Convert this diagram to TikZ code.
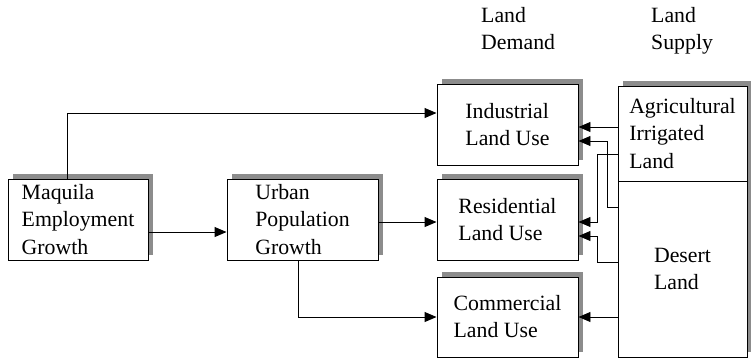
\documentclass[tikz,border=0pt]{standalone}
\usepackage{fontspec}
\setmainfont{Liberation Serif}
\usetikzlibrary{arrows.meta,shadows}

\begin{document}
\begin{tikzpicture}[
    font=\fontsize{12.4}{15.4}\selectfont,
    box/.style={draw,fill=white,line width=0.55pt,inner sep=0pt,align=left,
      general shadow={fill=black!45,shadow xshift=0.1cm,shadow yshift=0.1cm}},
    arr/.style={line width=0.55pt,-{Triangle[length=2.4mm,width=2mm]}}]
  \useasboundingbox (0,0) rectangle (15.02,7.18);
  % column headings
  \node[align=left,anchor=north west] (demand) at (9.5,7.15) {Land\\Demand};
  \node[align=left,anchor=north west] (supply) at (12.9,7.15) {Land\\Supply};
  % driving forces
  \node[box,minimum width=2.8cm,minimum height=1.62cm] (maquila) at (1.56,2.79) {Maquila\\Employment\\Growth};
  \node[box,minimum width=3.02cm,minimum height=1.62cm] (urban) at (6.05,2.79) {Urban\\Population\\Growth};
  % land demand
  \node[box,minimum width=2.82cm,minimum height=1.62cm] (industrial) at (10.15,4.69) {Industrial\\Land Use};
  \node[box,minimum width=2.82cm,minimum height=1.62cm] (residential) at (10.15,2.79) {Residential\\Land Use};
  \node[box,minimum width=2.82cm,minimum height=1.60cm] (commercial) at (10.15,0.84) {Commercial\\Land Use};
  % land supply
  \node[box,minimum width=2.58cm,minimum height=3.52cm] (desert) at (13.65,1.80) {Desert\\Land};
  \node[box,minimum width=2.58cm,minimum height=1.90cm] (agricultural) at (13.65,4.51) {Agricultural\\Irrigated\\Land};
  % connectors
  \draw[arr] ([xshift=1.2cm]maquila.north west) |- ([yshift=0.23cm]industrial.west);
  \draw[arr] ([yshift=-0.25cm]maquila.east) -- ([yshift=-0.25cm]urban.west);
  \draw[arr] ([yshift=-0.05cm]urban.east) -- ([yshift=-0.05cm]residential.west);
  \draw[arr] ([xshift=-0.09cm]urban.south) |- (commercial.west);
  \draw[arr] ([yshift=-0.05cm]industrial.east -| agricultural.west) -- ([yshift=-0.05cm]industrial.east);
  \draw[arr] ([yshift=1.24cm]desert.west) -- ++(-0.2,0) |- ([yshift=-0.33cm]industrial.east);
  \draw[arr] ([yshift=-0.41cm]agricultural.west) -- ++(-0.4,0) |- ([yshift=-0.05cm]residential.east);
  \draw[arr] ([yshift=0.14cm]desert.west) -- ++(-0.4,0) |- ([yshift=-0.33cm]residential.east);
  \draw[arr] (commercial.east -| desert.west) -- (commercial.east);
\end{tikzpicture}
\end{document}
